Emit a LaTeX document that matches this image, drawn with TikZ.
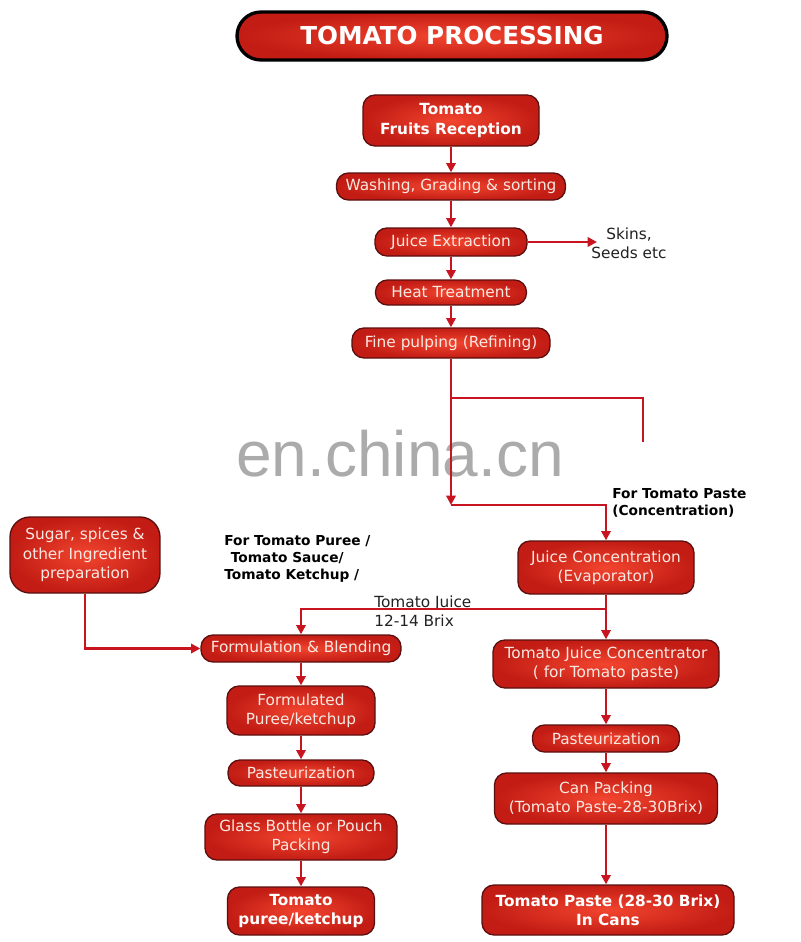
\documentclass[tikz,border=0pt]{standalone}
\usepackage{fontspec}
\setmainfont{DejaVu Sans}
\newfontfamily\wmfont{Liberation Sans}
\usetikzlibrary{arrows.meta}
\definecolor{boxin}{HTML}{F2452F}
\definecolor{boxout}{HTML}{C21C14}
\definecolor{boxline}{HTML}{5A1010}
\definecolor{boxtext}{HTML}{F8E8E2}
\definecolor{arrowred}{HTML}{C8141E}
\definecolor{labeltext}{HTML}{222222}
\definecolor{wmgrey}{HTML}{ABABAB}
\begin{document}
\begin{tikzpicture}[x=0.75pt,y=-0.75pt,
  box/.style={draw=boxline, line width=1pt, inner color=boxin, outer color=boxout,
    rounded corners=9pt, text=boxtext, align=center, inner sep=0pt,
    font=\fontsize{11.5}{14.5}\selectfont},
  bbox/.style={box, text=white, font=\fontsize{11.5}{14.5}\selectfont\bfseries},
  sz/.style 2 args={minimum width=0.75*#1pt, minimum height=0.75*#2pt},
  lbl/.style={text=labeltext, align=center, inner sep=0pt, font=\fontsize{11.5}{14}\selectfont},
  lblb/.style={text=black, align=left, inner sep=0pt, font=\fontsize{10.3}{13}\selectfont\bfseries},
  arr/.style={draw=arrowred, line width=2pt, -{Triangle[width=7pt,length=7pt]}},
  ln/.style={draw=arrowred, line width=2pt}]
\useasboundingbox (0,0) rectangle (800,942);
\fill[white] (0,0) rectangle (800,942);

% watermark
\node[font=\wmfont\fontsize{48}{48}\selectfont, text=wmgrey, anchor=base, inner sep=0pt] (wm) at (400,476) {en.china.cn};

% boxes
\node[bbox, sz={430}{48}, draw=black, line width=2.5pt, rounded corners=18pt,
  font=\fontsize{18.5}{22}\selectfont\bfseries] (title) at (452,36) {TOMATO PROCESSING};
\node[bbox, sz={176}{51}] (rec) at (451,120.5) {Tomato\\Fruits Reception};
\node[box, sz={229}{27}] (wash) at (451,186.5) {Washing, Grading \& sorting};
\node[box, sz={152}{28}] (je) at (451,242) {Juice Extraction};
\node[box, sz={151}{25}] (heat) at (451,292.5) {Heat Treatment};
\node[box, sz={198}{30}] (fine) at (451,343) {Fine pulping (Refining)};
\node[box, sz={176}{53}] (jc) at (606,567.5) {Juice Concentration\\(Evaporator)};
\node[box, sz={150}{76}, rounded corners=15pt] (sug) at (85,555) {Sugar, spices \&\\other Ingredient\\preparation};
\node[box, sz={200}{27}] (form) at (301,648.5) {Formulation \& Blending};
\node[box, sz={226}{48}] (tjc) at (606,664) {Tomato Juice Concentrator\\( for Tomato paste)};
\node[box, sz={148}{49}] (fpk) at (301,710.5) {Formulated\\Puree/ketchup};
\node[box, sz={146}{26}] (pl) at (301,773) {Pasteurization};
\node[box, sz={192}{46}] (glass) at (301,837) {Glass Bottle or Pouch\\Packing};
\node[bbox, sz={147}{48}] (puree) at (301,911) {Tomato\\puree/ketchup};
\node[box, sz={147}{27}] (pr) at (606,738.5) {Pasteurization};
\node[box, sz={223}{51}] (can) at (606,798.5) {Can Packing\\(Tomato Paste-28-30Brix)};
\node[bbox, sz={252}{50}] (pc) at (608,910) {Tomato Paste (28-30 Brix)\\In Cans};

% labels
\node[lbl] (skins) at (629,243) {Skins,\\Seeds etc};
\node[lblb, anchor=west] (ftp) at (612,503) {For Tomato Paste\\(Concentration)};
\node[lblb, anchor=west] (fpu) at (224,559) {For Tomato Puree /\\\hspace*{5pt}Tomato Sauce/\\Tomato Ketchup /};
\node[lbl, align=left, anchor=west] (tjl) at (374,611) {Tomato Juice\\12-14 Brix};

% connector points
\coordinate (sk) at (597,242);
\coordinate (p1) at (451,505);
\coordinate (b1) at (451,398);
\coordinate (b3) at (643,442);
\coordinate (tjb) at (606,609);

% connectors
\draw[arr] (rec) -- (wash);
\draw[arr] (wash) -- (je);
\draw[arr] (je) -- (heat);
\draw[arr] (heat) -- (fine);
\draw[arr] (je) -- (sk);
\draw[arr] (fine) -- (p1);
\draw[arr] (p1) -| (jc.north);
\draw[ln] (b1) -| (b3);
\draw[arr] (jc) -- (tjc);
\draw[arr] (tjb) -| (form.north);
\draw[arr] (sug.south) |- (form.west);
\draw[arr] (form) -- (fpk);
\draw[arr] (fpk) -- (pl);
\draw[arr] (pl) -- (glass);
\draw[arr] (glass) -- (puree);
\draw[arr] (tjc) -- (pr);
\draw[arr] (pr) -- (can);
\draw[arr] (can) -- (pc.north -| can);
\end{tikzpicture}
\end{document}
